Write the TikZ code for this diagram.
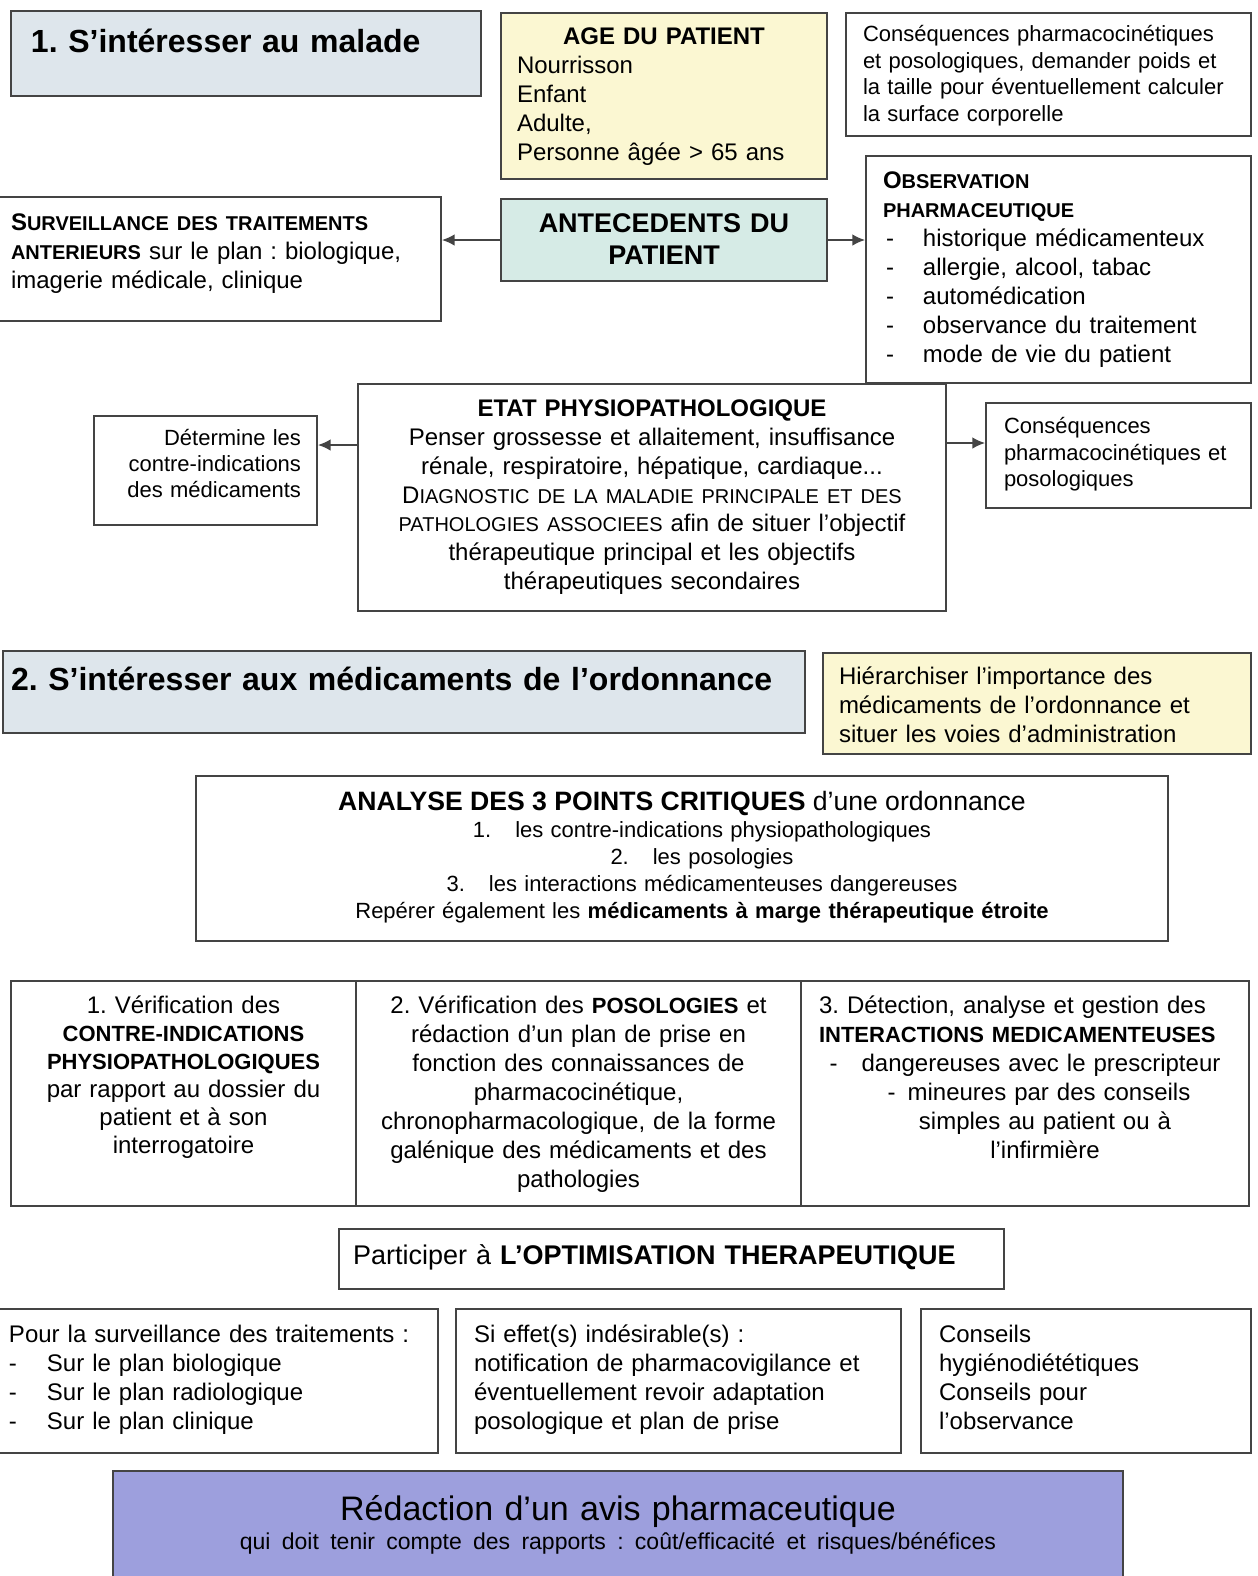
\documentclass[tikz,border=0pt]{standalone}
\usepackage{fontspec}
\setmainfont{Liberation Sans}
\frenchspacing
\usetikzlibrary{arrows.meta}
\definecolor{titlegray}{RGB}{222,230,236}
\definecolor{ageyellow}{RGB}{251,247,210}
\definecolor{antegreen}{RGB}{214,235,230}
\definecolor{avisviolet}{RGB}{157,159,221}
\definecolor{framegray}{RGB}{68,68,68}
\newcommand{\petit}[1]{{\fontsize{10}{14.5}\selectfont #1}}
\newcommand{\capgras}[1]{{\fontsize{11}{14}\selectfont\bfseries #1}}
\newcommand{\tiret}{\makebox[20pt][l]{\hspace{1.5pt}-}}

\begin{document}
\begin{tikzpicture}[
    x=0.5pt, y=-0.5pt,
    box/.style={rectangle, draw=framegray, line width=1pt, anchor=north west, inner ysep=0pt, inner xsep=8pt, align=left, font=\fontsize{12}{14.5}\selectfont},
    titre/.style={box, fill=titlegray, font=\fontsize{16}{19}\selectfont\bfseries},
    petitbox/.style={box, font=\fontsize{11}{13.25}\selectfont},
    arr/.style={-{Latex[length=2.2mm, width=2mm]}, line width=0.7pt, framegray}
  ]
    \path[use as bounding box, fill=white] (0,0) rectangle (1258,1576);
    \clip (0,0) rectangle (1258,1576);

    \node[titre, inner xsep=10pt, text width=215pt, text height=20.75pt, text depth=21.75pt] (malade) at (10,10) {1. S’intéresser au malade};
    \node[box, fill=ageyellow, text width=147pt, text height=15.8pt, text depth=67.2pt] (age) at (500,12)
      {\makebox[\linewidth]{\bfseries AGE DU PATIENT}\\ Nourrisson\\ Enfant\\ Adulte,\\ Personne âgée > 65 ans};
    \node[petitbox, inner xsep=8.5pt, text width=185.5pt, text height=14.45pt, text depth=47.05pt] (poids) at (845,12)
      {Conséquences pharmacocinétiques\\ et posologiques, demander poids et\\ la taille pour éventuellement calculer\\ la surface corporelle};

    \node[box, inner xsep=7pt, text width=208pt, text height=16.8pt, text depth=45.2pt] (surv) at (-4,196)
      {\textbf{S\petit{URVEILLANCE DES TRAITEMENTS}}\\ \textbf{\petit{ANTERIEURS}} sur le plan : biologique,\\ imagerie médicale, clinique};
    \node[box, fill=antegreen, inner xsep=5pt, text width=153pt, align=center, text height=16.85pt, text depth=24.15pt, font=\fontsize{13.5}{16}\selectfont\bfseries] (ante) at (500,198)
      {ANTECEDENTS DU\\ PATIENT};
    \node[box, inner xsep=8.5pt, text width=175.5pt, text height=16pt, text depth=97.5pt] (obs) at (865,155)
      {\textbf{O\petit{BSERVATION}}\\ \textbf{\petit{PHARMACEUTIQUE}}\\
       \tiret historique médicamenteux\\ \tiret allergie, alcool, tabac\\ \tiret automédication\\
       \tiret observance du traitement\\ \tiret mode de vie du patient};

    \node[box, inner xsep=5pt, text width=284pt, align=center, text height=16.3pt, text depth=97.2pt, font=\fontsize{12}{14.4}\selectfont] (etat) at (357,383)
      {\textbf{ETAT PHYSIOPATHOLOGIQUE}\\ Penser grossesse et allaitement, insuffisance\\ rénale, respiratoire, hépatique, cardiaque...\\
       D\petit{IAGNOSTIC DE LA MALADIE PRINCIPALE ET DES}\\ \petit{PATHOLOGIES ASSOCIEES} afin de situer l’objectif\\
       thérapeutique principal et les objectifs\\ thérapeutiques secondaires};
    \node[petitbox, text width=95.5pt, align=right, text height=14.95pt, text depth=39.55pt, font=\fontsize{11}{13}\selectfont] (ci) at (93,415)
      {Détermine les\\ contre-indications\\ des médicaments};
    \node[petitbox, inner xsep=9pt, text width=114.5pt, text height=15.45pt, text depth=37.05pt] (poso) at (985,402)
      {Conséquences\\ pharmacocinétiques et\\ posologiques};

    \node[titre, inner xsep=4pt, text width=393pt, text height=19.75pt, text depth=21.25pt] (medic) at (2,650)
      {2. S’intéresser aux médicaments de l’ordonnance};
    \node[box, fill=ageyellow, text width=198pt, text height=15.8pt, text depth=34.7pt] (hier) at (822,652)
      {Hiérarchiser l’importance des\\ médicaments de l’ordonnance et\\ situer les voies d’administration};

    \node[box, inner xsep=5pt, text width=476pt, align=center, text height=17.15pt, text depth=65.35pt, font=\fontsize{11}{13.5}\selectfont] (analyse) at (195,775)
      {{\fontsize{13.3}{13.5}\selectfont\textbf{ANALYSE DES 3 POINTS CRITIQUES} d’une ordonnance}\\
       \hspace*{20pt}1.\hspace{12pt}les contre-indications physiopathologiques\\
       \hspace*{20pt}2.\hspace{12pt}les posologies\\
       \hspace*{20pt}3.\hspace{12pt}les interactions médicamenteuses dangereuses\\
       \hspace*{20pt}Repérer également les \textbf{médicaments à marge thérapeutique étroite}};

    \node[box, inner xsep=5pt, text width=162.5pt, align=center, text height=16.3pt, text depth=96.2pt, font=\fontsize{12}{14}\selectfont] (verifci) at (10,980)
      {1. Vérification des\\ \capgras{CONTRE-INDICATIONS}\\ \capgras{PHYSIOPATHOLOGIQUES}\\ par rapport au dossier du\\ patient et à son\\ interrogatoire};
    \node[box, inner xsep=5pt, text width=212.5pt, align=center, text height=16.3pt, text depth=96.2pt] (verifposo) at (355,980)
      {2. Vérification des \capgras{POSOLOGIES} et\\ rédaction d’un plan de prise en\\ fonction des connaissances de\\ pharmacocinétique,\\
       chronopharmacologique, de la forme\\ galénique des médicaments et des\\ pathologies};
    \node[box, inner xsep=9pt, text width=206pt, align=center, text height=16.3pt, text depth=96.2pt] (interac) at (800,980)
      {\makebox[\linewidth][l]{3. Détection, analyse et gestion des}\\ \makebox[\linewidth][l]{\capgras{INTERACTIONS MEDICAMENTEUSES}}\\
       -\hspace{12pt}dangereuses avec le prescripteur\\ \hspace*{14pt}-\hspace{6pt}mineures par des conseils\\
       \hspace*{20pt}simples au patient ou à\\ \hspace*{20pt}l’infirmière};

    \node[box, inner xsep=7pt, text width=318.5pt, text height=17.5pt, text depth=12.5pt, font=\fontsize{13.5}{15}\selectfont] (optim) at (338,1228)
      {Participer à \textbf{L’OPTIMISATION THERAPEUTIQUE}};

    \node[box, inner xsep=5pt, text width=209.5pt, text height=16.8pt, text depth=55.2pt] (surveil) at (-2,1308)
      {Pour la surveillance des traitements :\\ \makebox[19pt][l]{-}Sur le plan biologique\\ \makebox[19pt][l]{-}Sur le plan radiologique\\ \makebox[19pt][l]{-}Sur le plan clinique};
    \node[box, inner xsep=9pt, text width=204.5pt, text height=16.8pt, text depth=55.2pt] (effet) at (455,1308)
      {Si effet(s) indésirable(s) :\\ notification de pharmacovigilance et\\ éventuellement revoir adaptation\\ posologique et plan de prise};
    \node[box, inner xsep=9pt, text width=147pt, text height=16.8pt, text depth=55.2pt] (conseil) at (920,1308)
      {Conseils\\ hygiénodiététiques\\ Conseils pour\\ l’observance};

    \node[box, fill=avisviolet, inner xsep=5pt, text width=495pt, align=center, text height=24.5pt, text depth=40.5pt, font=\fontsize{17}{14.5}\selectfont] (avis) at (112,1470)
      {Rédaction d’un avis pharmaceutique\\ \mbox{\fontsize{11.5}{14.5}\selectfont qui doit tenir compte des rapports : coût/efficacité et risques/bénéfices}};

    \draw[arr] (ante.west) -- (ante.west -| surv.east);
    \draw[arr] (ante.east) -- (ante.east -| obs.west);
    \draw[arr] ([yshift=-31pt]etat.north west) -- ([yshift=-31pt]etat.north west -| ci.east);
    \draw[arr] ([yshift=-30pt]etat.north east) -- ([yshift=-30pt]etat.north east -| poso.west);
  \end{tikzpicture}
\end{document}
